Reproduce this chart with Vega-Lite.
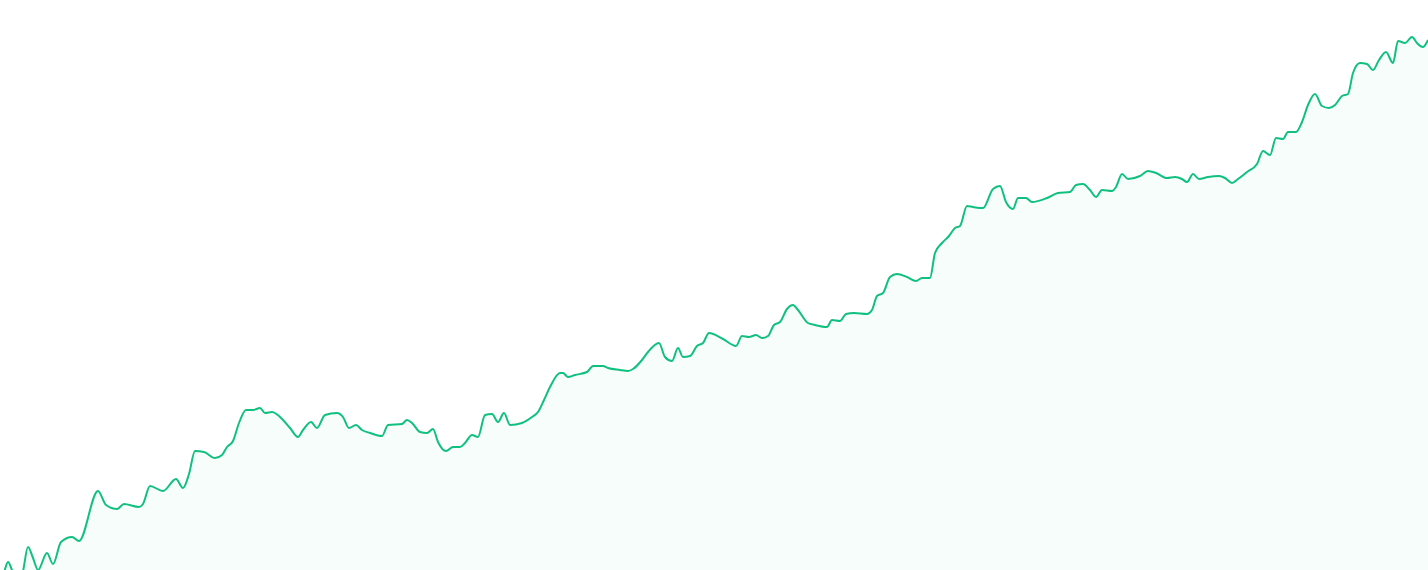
{
  "$schema": "https://vega.github.io/schema/vega-lite/v6.json",
  "width": 1428,
  "height": 570,
  "padding": 0,
  "autosize": {"type": "fit", "contains": "padding"},
  "background": "#ffffff",
  "config": {"view": {"stroke": null}},
  "data": {"values": [
    {"x":0,"v":-8},{"x":4,"v":-2},{"x":8,"v":8},{"x":12,"v":0},{"x":16,"v":-10},{"x":22,"v":-5},{"x":28,"v":23},{"x":33,"v":12},{"x":38,"v":0},{"x":47,"v":17},{"x":53,"v":6},{"x":61,"v":28},{"x":72,"v":33},{"x":79,"v":29},{"x":98,"v":79},{"x":106,"v":65},{"x":117,"v":61},{"x":124,"v":66},{"x":139,"v":63},{"x":143,"v":66},{"x":150,"v":84},{"x":163,"v":79},{"x":176,"v":91},{"x":183,"v":82},{"x":189,"v":96},{"x":195,"v":119},{"x":204,"v":118},{"x":215,"v":112},{"x":222,"v":115},{"x":227,"v":123},{"x":233,"v":129},{"x":239,"v":147},{"x":246,"v":160},{"x":253,"v":160},{"x":260,"v":162},{"x":265,"v":157},{"x":272,"v":158},{"x":283,"v":150},{"x":290,"v":142},{"x":298,"v":133},{"x":303,"v":140},{"x":311,"v":148},{"x":317,"v":142},{"x":325,"v":155},{"x":337,"v":157},{"x":343,"v":153},{"x":349,"v":142},{"x":356,"v":145},{"x":362,"v":140},{"x":370,"v":137},{"x":382,"v":134},{"x":388,"v":145},{"x":402,"v":146},{"x":407,"v":150},{"x":412,"v":147},{"x":420,"v":138},{"x":427,"v":137},{"x":433,"v":141},{"x":438,"v":128},{"x":446,"v":119},{"x":453,"v":123},{"x":460,"v":123},{"x":465,"v":127},{"x":472,"v":135},{"x":478,"v":133},{"x":485,"v":155},{"x":492,"v":156},{"x":498,"v":148},{"x":504,"v":157},{"x":510,"v":145},{"x":522,"v":147},{"x":532,"v":153},{"x":538,"v":158},{"x":544,"v":170},{"x":550,"v":183},{"x":560,"v":197},{"x":563,"v":197},{"x":568,"v":193},{"x":575,"v":195},{"x":587,"v":198},{"x":593,"v":204},{"x":603,"v":204},{"x":608,"v":202},{"x":620,"v":200},{"x":628,"v":199},{"x":633,"v":201},{"x":642,"v":210},{"x":648,"v":218},{"x":659,"v":227},{"x":665,"v":213},{"x":672,"v":209},{"x":678,"v":222},{"x":683,"v":213},{"x":690,"v":214},{"x":697,"v":224},{"x":703,"v":227},{"x":709,"v":237},{"x":723,"v":231},{"x":736,"v":224},{"x":742,"v":234},{"x":749,"v":233},{"x":756,"v":235},{"x":762,"v":232},{"x":768,"v":234},{"x":774,"v":245},{"x":780,"v":248},{"x":787,"v":261},{"x":793,"v":265},{"x":798,"v":260},{"x":808,"v":247},{"x":815,"v":245},{"x":827,"v":243},{"x":832,"v":250},{"x":840,"v":249},{"x":846,"v":256},{"x":854,"v":257},{"x":867,"v":256},{"x":872,"v":260},{"x":877,"v":274},{"x":883,"v":277},{"x":890,"v":293},{"x":897,"v":296},{"x":907,"v":293},{"x":916,"v":289},{"x":922,"v":292},{"x":930,"v":292},{"x":935,"v":317},{"x":942,"v":327},{"x":949,"v":334},{"x":955,"v":342},{"x":960,"v":344},{"x":967,"v":364},{"x":973,"v":363},{"x":983,"v":362},{"x":993,"v":381},{"x":1000,"v":384},{"x":1006,"v":368},{"x":1013,"v":361},{"x":1018,"v":372},{"x":1026,"v":372},{"x":1032,"v":368},{"x":1047,"v":372},{"x":1058,"v":377},{"x":1070,"v":378},{"x":1076,"v":385},{"x":1083,"v":386},{"x":1090,"v":380},{"x":1096,"v":373},{"x":1102,"v":380},{"x":1112,"v":379},{"x":1116,"v":383},{"x":1122,"v":396},{"x":1128,"v":391},{"x":1140,"v":394},{"x":1148,"v":399},{"x":1156,"v":397},{"x":1167,"v":392},{"x":1175,"v":393},{"x":1182,"v":391},{"x":1187,"v":388},{"x":1193,"v":396},{"x":1199,"v":391},{"x":1208,"v":393},{"x":1219,"v":394},{"x":1225,"v":392},{"x":1232,"v":387},{"x":1238,"v":391},{"x":1247,"v":398},{"x":1257,"v":406},{"x":1263,"v":419},{"x":1270,"v":415},{"x":1276,"v":432},{"x":1283,"v":431},{"x":1288,"v":438},{"x":1296,"v":438},{"x":1302,"v":448},{"x":1308,"v":465},{"x":1315,"v":476},{"x":1322,"v":464},{"x":1329,"v":462},{"x":1335,"v":465},{"x":1342,"v":474},{"x":1348,"v":476},{"x":1353,"v":497},{"x":1360,"v":507},{"x":1367,"v":506},{"x":1373,"v":500},{"x":1379,"v":510},{"x":1386,"v":518},{"x":1393,"v":507},{"x":1398,"v":529},{"x":1405,"v":527},{"x":1412,"v":533},{"x":1417,"v":527},{"x":1423,"v":523},{"x":1428,"v":530}
  ]},
  "encoding": {
    "x": {"field": "x", "type": "quantitative", "scale": {"domain": [0, 1428], "nice": false, "zero": false}, "axis": null},
    "y": {"field": "v", "type": "quantitative", "scale": {"domain": [0, 570], "nice": false}, "axis": null}
  },
  "layer": [
    {"mark": {"type": "area", "interpolate": "monotone", "color": "#10b981", "fillOpacity": 0.035, "clip": true}},
    {"mark": {"type": "line", "interpolate": "monotone", "color": "#10c07f", "strokeWidth": 2, "clip": true}}
  ]
}
